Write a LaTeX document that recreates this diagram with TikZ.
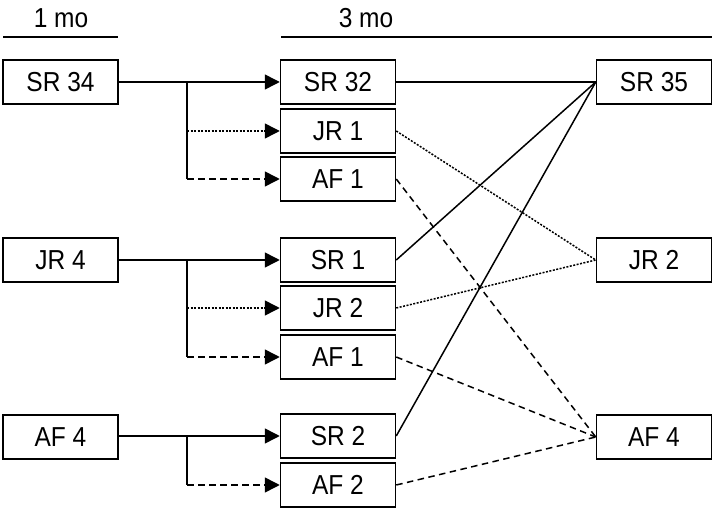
\documentclass[tikz,border=0pt]{standalone}
\usepackage{fontspec}
\setmainfont{Liberation Sans}
\usetikzlibrary{arrows.meta}
\newcommand{\tallt}[1]{\scalebox{1}[1.12]{#1}}
\begin{document}
\begin{tikzpicture}[x=1pt,y=-1pt,
  box/.style={draw,line width=1.5pt,minimum width=115pt,minimum height=44pt,inner sep=0pt,font=\fontsize{24.5}{28}\selectfont},
  lbl/.style={font=\fontsize{24.5}{28}\selectfont},
  conn/.style={line width=1.5pt},
  arr/.style={conn,-{Triangle[length=15pt,width=15pt]}},
  dotline/.style={dash pattern=on 2pt off 1.5pt},
  dashline/.style={dash pattern=on 6.5pt off 4.5pt}]
\useasboundingbox (0,0) rectangle (712,510);
% headers
\node[lbl] (h1) at (61,18) {\tallt{1 mo}};
\node[lbl] (h3) at (366,18) {\tallt{3 mo}};
\coordinate (l1a) at (3,37); \coordinate (l1b) at (118,37);
\coordinate (l3a) at (281,37); \coordinate (l3b) at (712,37);
\draw[conn] (l1a) -- (l1b);
\draw[conn] (l3a) -- (l3b);
% left
\node[box] (sr34) at (60.5,82) {\tallt{SR 34}};
\node[box] (jr4) at (60.5,260) {\tallt{JR 4}};
\node[box] (af4l) at (60.5,437) {\tallt{AF 4}};
% middle
\node[box] (sr32) at (338,82) {\tallt{SR 32}};
\node[box] (jr1) at (338,131) {\tallt{JR 1}};
\node[box] (af1a) at (338,179) {\tallt{AF 1}};
\node[box] (sr1) at (338,260) {\tallt{SR 1}};
\node[box] (jr2a) at (338,308) {\tallt{JR 2}};
\node[box] (af1b) at (338,357) {\tallt{AF 1}};
\node[box] (sr2) at (338,436) {\tallt{SR 2}};
\node[box] (af2) at (338,485) {\tallt{AF 2}};
% right
\node[box] (sr35) at (654,82) {\tallt{SR 35}};
\node[box] (jr2r) at (654,260) {\tallt{JR 2}};
\node[box] (af4r) at (654,437) {\tallt{AF 4}};
% branch points
\coordinate (b1) at (187,82);
\coordinate (b2) at (187,260);
\coordinate (b3) at (187,436);
% group 1
\draw[arr] (sr34.east) -- (sr32.west);
\draw[conn] (b1) -- (b1 |- af1a.west);
\draw[arr,dotline] (b1 |- jr1.west) -- (jr1.west);
\draw[arr,dashline] (b1 |- af1a.west) -- (af1a.west);
% group 2
\draw[arr] (jr4.east) -- (sr1.west);
\draw[conn] (b2) -- (b2 |- af1b.west);
\draw[arr,dotline] (b2 |- jr2a.west) -- (jr2a.west);
\draw[arr,dashline] (b2 |- af1b.west) -- (af1b.west);
% group 3
\draw[arr] (af4l.east |- sr2.west) -- (sr2.west);
\draw[conn] (b3) -- (b3 |- af2.west);
\draw[arr,dashline] (b3 |- af2.west) -- (af2.west);
% right connections
\draw[conn] (sr32.east) -- (sr35.west);
\draw[conn] (sr1.east) -- (sr35.west);
\draw[conn] (sr2.east) -- (sr35.west);
\draw[conn,dotline] (jr1.east) -- (jr2r.west);
\draw[conn,dotline] (jr2a.east) -- (jr2r.west);
\draw[conn,dashline] (af1a.east) -- (af4r.west);
\draw[conn,dashline] (af1b.east) -- (af4r.west);
\draw[conn,dashline] (af2.east) -- (af4r.west);
\end{tikzpicture}
\end{document}
